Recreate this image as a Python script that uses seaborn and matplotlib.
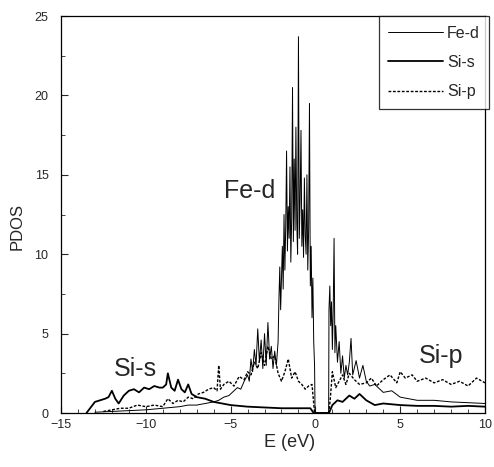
import numpy as np
import pandas as pd
import seaborn as sns
import matplotlib
matplotlib.use("Agg")
import matplotlib.pyplot as plt
from matplotlib.ticker import MultipleLocator

# Fe-d partial DOS
e_fed = [-13.0, -12.0, -11.0, -10.0, -9.5, -9.0, -8.5, -8.0, -7.5, -7.0,
         -6.5, -6.0, -5.7, -5.4, -5.1, -4.8, -4.6, -4.4, -4.2, -4.0,
         -3.9, -3.8, -3.7, -3.6, -3.5, -3.4, -3.3, -3.2, -3.1, -3.0,
         -2.9, -2.8, -2.7, -2.6, -2.5, -2.4, -2.3, -2.2, -2.15, -2.1,
         -2.05, -2.0, -1.95, -1.9, -1.85, -1.8, -1.75, -1.7, -1.65, -1.6,
         -1.55, -1.5, -1.45, -1.4, -1.35, -1.3, -1.25, -1.2, -1.15, -1.1,
         -1.05, -1.0, -0.95, -0.9, -0.85, -0.8, -0.75, -0.7, -0.65, -0.6,
         -0.55, -0.5, -0.45, -0.4, -0.35, -0.3, -0.25, -0.2, -0.15, -0.1,
         -0.05, -0.02, 0.78, 0.8, 0.85, 0.9, 0.95, 1.0, 1.05, 1.1,
         1.15, 1.2, 1.3, 1.4, 1.5, 1.6, 1.7, 1.8, 1.9, 2.0,
         2.1, 2.2, 2.4, 2.6, 2.8, 3.0, 3.2, 3.5, 4.0, 4.5,
         5.0, 5.5, 6.0, 7.0, 8.0, 9.0, 10.0]
fed = [0.05, 0.1, 0.15, 0.2, 0.25, 0.3, 0.35, 0.4, 0.5, 0.5,
       0.6, 0.7, 0.8, 1.0, 1.1, 1.4, 1.6, 1.5, 2.0, 2.4,
       2.0, 3.4, 2.6, 4.0, 3.0, 5.3, 3.2, 4.6, 2.8, 5.0,
       3.0, 5.7, 3.4, 4.2, 2.8, 3.9, 3.0, 4.5, 7.2, 9.2,
       6.5, 8.5, 10.5, 7.8, 12.5, 9.0, 11.8, 16.5, 10.2, 13.0,
       11.0, 15.5, 9.5, 12.2, 20.5, 10.8, 16.0, 11.5, 18.0, 12.0,
       10.0, 23.7, 11.0, 13.5, 17.8, 10.5, 12.8, 9.8, 14.8, 11.2,
       10.0, 15.0, 9.0, 11.5, 19.5, 8.0, 10.5, 6.0, 8.5, 4.5,
       3.0, 0.0, 0.0, 6.5, 8.0, 5.5, 7.0, 4.0, 6.5, 11.0,
       3.8, 5.5, 3.2, 4.5, 2.5, 3.6, 2.2, 3.0, 2.4, 3.2,
       4.7, 2.4, 3.3, 2.2, 3.0, 2.0, 1.7, 1.8, 1.3, 1.4,
       1.0, 0.9, 0.8, 0.8, 0.7, 0.65, 0.6]

# Si-s partial DOS
e_sis = [-13.5, -13.0, -12.7, -12.4, -12.2, -12.0, -11.8, -11.6, -11.3, -11.0,
         -10.7, -10.4, -10.1, -9.8, -9.5, -9.2, -9.0, -8.8, -8.7, -8.5,
         -8.3, -8.1, -7.9, -7.7, -7.5, -7.3, -7.0, -6.5, -6.0, -5.5,
         -5.0, -4.5, -4.0, -3.0, -2.0, -1.0, -0.3, -0.1, 0.8, 1.0,
         1.3, 1.6, 2.0, 2.3, 2.6, 3.0, 3.5, 4.0, 5.0, 6.0,
         7.0, 8.0, 9.0, 10.0]
sis = [0.0, 0.7, 0.8, 0.9, 1.0, 1.4, 0.9, 0.6, 1.1, 1.4,
       1.5, 1.3, 1.6, 1.5, 1.7, 1.6, 1.6, 1.8, 2.5, 1.6,
       1.4, 2.1, 1.5, 1.3, 1.8, 1.2, 1.0, 0.9, 0.7, 0.6,
       0.5, 0.45, 0.4, 0.35, 0.3, 0.3, 0.3, 0.0, 0.0, 0.5,
       0.8, 0.7, 1.1, 0.9, 1.2, 0.8, 0.5, 0.6, 0.5, 0.45,
       0.45, 0.4, 0.45, 0.4]

# Si-p partial DOS
e_sip = [-12.5, -12.0, -11.5, -11.0, -10.5, -10.0, -9.5, -9.0, -8.7, -8.4,
         -8.1, -7.8, -7.5, -7.2, -6.9, -6.6, -6.3, -6.0, -5.8, -5.7,
         -5.6, -5.4, -5.1, -4.8, -4.5, -4.2, -4.0, -3.8, -3.6, -3.4,
         -3.2, -3.0, -2.8, -2.6, -2.4, -2.2, -2.0, -1.8, -1.6, -1.4,
         -1.2, -1.0, -0.8, -0.6, -0.4, -0.2, -0.05, 0.8, 0.9, 1.0,
         1.2, 1.4, 1.6, 1.8, 2.0, 2.3, 2.6, 3.0, 3.3, 3.6,
         4.0, 4.4, 4.8, 5.0, 5.3, 5.7, 6.0, 6.5, 7.0, 7.5,
         8.0, 8.5, 9.0, 9.5, 10.0]
sip = [0.1, 0.2, 0.3, 0.3, 0.5, 0.4, 0.5, 0.4, 0.9, 0.6,
       0.8, 0.7, 1.0, 0.9, 1.2, 1.3, 1.5, 1.6, 1.4, 3.0,
       1.5, 1.8, 2.0, 1.7, 2.3, 2.1, 2.6, 2.4, 3.2, 2.8,
       3.8, 3.0, 4.2, 3.4, 3.6, 2.5, 2.0, 2.6, 3.4, 2.2,
       2.6, 2.0, 1.8, 1.5, 1.7, 1.8, 0.0, 0.0, 1.2, 2.6,
       1.6, 2.0, 2.4, 1.8, 2.5, 2.1, 1.8, 1.9, 2.2, 1.7,
       2.1, 2.4, 1.9, 2.6, 2.2, 2.4, 2.0, 2.2, 1.9, 2.1,
       1.8, 2.0, 1.7, 2.2, 1.9]

x_ticks = [-15, -10, -5, 0, 5, 10]
y_ticks = [0, 5, 10, 15, 20, 25]

sns.set_style("ticks")
plt.rcParams['font.family'] = ['Liberation Sans', 'DejaVu Sans']

fig = plt.figure(figsize=(4.94, 4.67), dpi=100)
ax = fig.add_axes([0.1235, 0.1156, 0.8583, 0.8501])

df_fed = pd.DataFrame({"E": e_fed, "PDOS": fed})
df_sis = pd.DataFrame({"E": e_sis, "PDOS": sis})
df_sip = pd.DataFrame({"E": e_sip, "PDOS": sip})

sns.lineplot(data=df_fed, x="E", y="PDOS", ax=ax, color="black", lw=0.7,
             estimator=None, sort=False, label="Fe-d")
sns.lineplot(data=df_sis, x="E", y="PDOS", ax=ax, color="black", lw=1.3,
             estimator=None, sort=False, label="Si-s")
sns.lineplot(data=df_sip, x="E", y="PDOS", ax=ax, color="black", lw=1.0,
             estimator=None, sort=False, label="Si-p", linestyle=(0, (2, 1.2)))

ax.set_xlim(-15, 10)
ax.set_ylim(0, 25)
ax.set_xticks(x_ticks)
ax.set_yticks(y_ticks)
ax.xaxis.set_minor_locator(MultipleLocator(1))
ax.yaxis.set_minor_locator(MultipleLocator(2.5))
ax.tick_params(direction="in", which="major", length=5, width=0.8, labelsize=9)
ax.tick_params(axis="x", which="major", pad=4)
ax.tick_params(axis="y", which="major", pad=9)
ax.tick_params(direction="in", which="minor", length=3, width=0.6)
for s in ax.spines.values():
    s.set_linewidth(0.9)
    s.set_color("black")

ax.set_xlabel("E (eV)", fontsize=13)
ax.set_ylabel("PDOS", fontsize=12)
ax.xaxis.set_label_coords(0.54, -0.052)
ax.yaxis.set_label_coords(-0.085, 0.47)

ax.text(-3.9, 14.0, "Fe-d", fontsize=18, ha="center", va="center")
ax.text(-10.6, 2.8, "Si-s", fontsize=18, ha="center", va="center")
ax.text(7.4, 3.6, "Si-p", fontsize=18, ha="center", va="center")

leg = ax.legend(loc="upper right", bbox_to_anchor=(1.01, 1.0), fontsize=11.5,
                frameon=True, fancybox=False, handlelength=3.4,
                borderaxespad=0.0, labelspacing=0.9, handletextpad=0.25,
                borderpad=0.6)
leg.get_frame().set_edgecolor("black")
leg.get_frame().set_linewidth(0.9)

fig.savefig("out.png", dpi=100)
